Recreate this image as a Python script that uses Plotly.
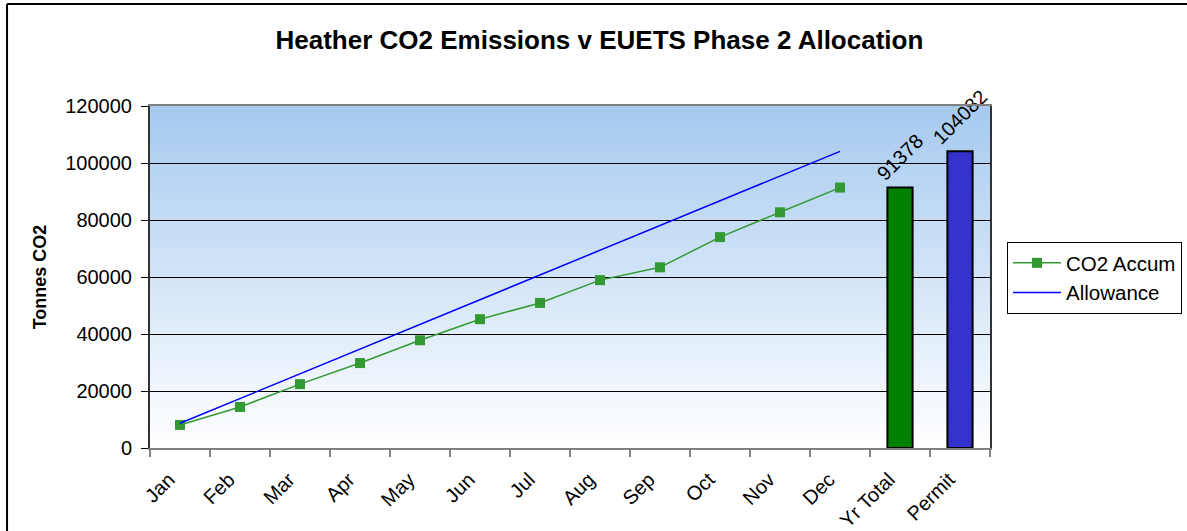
import plotly.graph_objects as go

months = ["Jan", "Feb", "Mar", "Apr", "May", "Jun", "Jul", "Aug", "Sep", "Oct", "Nov", "Dec"]
co2_accum = [8100, 14400, 22400, 29800, 37800, 45200, 50900, 58900, 63400, 74000, 82700, 91378]
allowance = [8674, 17347, 26021, 34694, 43368, 52041, 60715, 69388, 78062, 86735, 95409, 104082]
bar_cats = ["Yr Total", "Permit"]
bar_vals = [91378, 104082]
bar_colors = ["#008000", "#3333CC"]
categories = months + bar_cats
y_ticks = [0, 20000, 40000, 60000, 80000, 100000, 120000]

FONT = "Liberation Sans, Arial, sans-serif"

fig = go.Figure()

fig.add_trace(go.Scatter(
    x=months, y=co2_accum, name="CO2 Accum", mode="lines+markers",
    line=dict(color="#339933", width=1.5),
    marker=dict(symbol="square", size=10, color="#339933"),
    cliponaxis=False,
))
fig.add_trace(go.Scatter(
    x=months, y=allowance, name="Allowance", mode="lines",
    line=dict(color="#0000FF", width=1.5),
))
for cat, val, col in zip(bar_cats, bar_vals, bar_colors):
    fig.add_trace(go.Bar(
        x=[cat], y=[val], width=0.42, showlegend=False,
        marker=dict(color=col, line=dict(color="black", width=2)),
        text=[str(val)], textposition="outside", textangle=-45,
        constraintext="none", cliponaxis=False,
        textfont=dict(family=FONT, size=20, color="black"),
    ))

# gradient background of plot area
n = 120
top = (166, 202, 240)
shapes = []
for i in range(n):
    t = i / (n - 1)
    r = round(255 + (top[0] - 255) * t)
    g = round(255 + (top[1] - 255) * t)
    b = round(255 + (top[2] - 255) * t)
    shapes.append(dict(
        type="rect", xref="x domain", yref="y domain",
        x0=0, x1=1, y0=i / n, y1=(i + 1) / n + 0.002,
        fillcolor=f"rgb({r},{g},{b})", line=dict(width=0), layer="below",
    ))
# outer chart border (top and left edges; the rest falls outside the picture)
shapes.append(dict(
    type="line", xref="paper", yref="paper",
    x0=-0.1702, x1=1.5, y0=1.298, y1=1.298,
    line=dict(color="black", width=2), layer="above",
))
shapes.append(dict(
    type="line", xref="paper", yref="paper",
    x0=-0.1702, x1=-0.1702, y0=-0.4, y1=1.298,
    line=dict(color="black", width=2), layer="above",
))

fig.update_layout(
    width=1187, height=531,
    margin=dict(l=150, r=197, t=106, b=83),
    paper_bgcolor="white", plot_bgcolor="white",
    font=dict(family=FONT, size=20, color="black"),
    title=dict(text="<b>Heather CO2 Emissions v EUETS Phase 2 Allocation</b>",
               x=0.505, xanchor="center", y=0.925, yanchor="middle",
               font=dict(family=FONT, size=26, color="black")),
    shapes=shapes,
    bargap=0.5,
    legend=dict(x=1007 / 1187, xanchor="left", xref="container",
                y=1 - 242 / 531, yanchor="top", yref="container",
                bordercolor="black", borderwidth=1, bgcolor="white",
                font=dict(family=FONT, size=20.5), itemwidth=48,
                tracegroupgap=0),
    showlegend=True,
)
fig.update_xaxes(
    type="category", categoryorder="array", categoryarray=categories,
    range=[-0.5, len(categories) - 0.5],
    tickangle=-45, tickson="boundaries", ticks="outside", ticklen=7,
    tickcolor="#808080", tickwidth=2,
    ticklabelstandoff=10, ticklabelshift=-11, automargin=False,
    showline=True, linecolor="#808080", linewidth=2, mirror=True,
    showgrid=False, tickfont=dict(family=FONT, size=20),
)
fig.update_yaxes(
    range=[0, 120000], tickvals=y_ticks, ticktext=[str(v) for v in y_ticks],
    ticks="outside", ticklen=7, tickcolor="black", tickwidth=1,
    ticklabelstandoff=5, automargin=False,
    showline=True, linecolor="#333333", linewidth=2, mirror=True,
    showgrid=True, gridcolor="black", gridwidth=1, zeroline=False,
    tickfont=dict(family=FONT, size=20),
    title=dict(text="<b>Tonnes CO2</b>", standoff=14,
               font=dict(family=FONT, size=18)),
)

fig.write_html("out.html", config={"displayModeBar": False},
               post_script="document.body.style.margin='0';")
